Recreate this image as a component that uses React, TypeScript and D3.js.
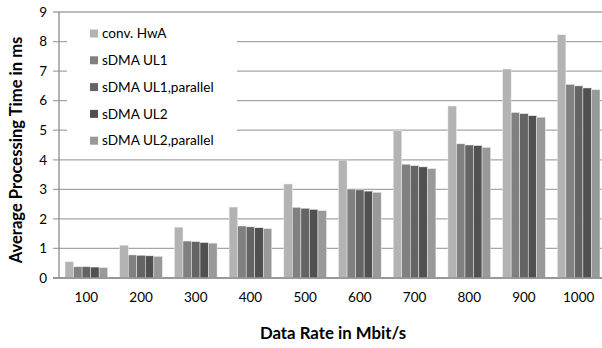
import React, { useEffect, useRef } from 'react';
import * as d3 from 'd3';

const categories = ['100', '200', '300', '400', '500', '600', '700', '800', '900', '1000'];
const seriesNames = ['conv. HwA', 'sDMA UL1', 'sDMA UL1,parallel', 'sDMA UL2', 'sDMA UL2,parallel'];
const convHwA = [0.55, 1.11, 1.72, 2.4, 3.18, 3.99, 4.98, 5.82, 7.07, 8.23];
const sdmaUL1 = [0.38, 0.78, 1.25, 1.76, 2.39, 3.01, 3.85, 4.54, 5.6, 6.55];
const sdmaUL1Par = [0.38, 0.77, 1.23, 1.73, 2.36, 2.98, 3.8, 4.5, 5.56, 6.5];
const sdmaUL2 = [0.37, 0.75, 1.2, 1.7, 2.32, 2.94, 3.76, 4.48, 5.49, 6.43];
const sdmaUL2Par = [0.35, 0.73, 1.18, 1.67, 2.28, 2.9, 3.7, 4.42, 5.44, 6.37];
const yTicks = [0, 1, 2, 3, 4, 5, 6, 7, 8, 9];
const colors = ['#b3b3b3', '#808080', '#646464', '#505050', '#999999'];

const FONT = 'Lato, "Open Sans", sans-serif';

const App: React.FC = () => {
    const svgRef = useRef<SVGSVGElement>(null);

    useEffect(() => {
        const width = 602;
        const height = 348;
        const margin = { top: 12, left: 59, right: -4, bottom: 70 };
        const series = [convHwA, sdmaUL1, sdmaUL1Par, sdmaUL2, sdmaUL2Par];

        const svg = d3.select(svgRef.current);
        svg.selectAll('*').remove();
        svg.attr('width', width).attr('height', height);

        const x = d3.scaleBand<string>()
            .domain(categories)
            .range([margin.left, width - margin.right])
            .paddingInner(0.22)
            .paddingOuter(0.11);

        const x1 = d3.scaleBand<number>()
            .domain(d3.range(seriesNames.length))
            .range([0, x.bandwidth()]);

        const y = d3.scaleLinear().domain([0, 9]).range([height - margin.bottom, margin.top]);

        // gridlines + y ticks
        svg.append('g')
            .selectAll('line')
            .data(yTicks)
            .enter()
            .append('line')
            .attr('x1', margin.left - 6)
            .attr('x2', width - margin.right)
            .attr('y1', d => y(d))
            .attr('y2', d => y(d))
            .attr('stroke', '#a6a6a6')
            .attr('stroke-width', 1.3);

        svg.append('g')
            .selectAll('text')
            .data(yTicks)
            .enter()
            .append('text')
            .attr('x', 47)
            .attr('y', d => y(d))
            .attr('dy', '0.35em')
            .attr('text-anchor', 'end')
            .attr('font-family', FONT)
            .attr('font-size', 13.5)
            .attr('fill', '#000')
            .text(d => d);

        // bars
        const groups = svg.append('g')
            .selectAll('g')
            .data(categories)
            .enter()
            .append('g')
            .attr('transform', d => `translate(${x(d)},0)`);

        groups.selectAll('rect')
            .data((_, i) => series.map((s, k) => ({ k, v: s[i] })))
            .enter()
            .append('rect')
            .attr('x', d => x1(d.k)!)
            .attr('width', x1.bandwidth())
            .attr('y', d => y(d.v))
            .attr('height', d => y(0) - y(d.v))
            .attr('fill', d => colors[d.k])
            .attr('stroke', '#ececec')
            .attr('stroke-width', 0.5);

        // axis lines
        svg.append('line')
            .attr('x1', margin.left).attr('x2', margin.left)
            .attr('y1', y(9)).attr('y2', y(0))
            .attr('stroke', '#8c8c8c').attr('stroke-width', 1.3);
        svg.append('line')
            .attr('x1', margin.left - 6).attr('x2', width - margin.right)
            .attr('y1', y(0)).attr('y2', y(0))
            .attr('stroke', '#8c8c8c').attr('stroke-width', 1.3);

        // x tick labels
        svg.append('g')
            .selectAll('text')
            .data(categories)
            .enter()
            .append('text')
            .attr('x', d => x(d)! + x.bandwidth() / 2)
            .attr('y', 302)
            .attr('text-anchor', 'middle')
            .attr('font-family', FONT)
            .attr('font-size', 13.5)
            .attr('fill', '#000')
            .text(d => d);

        // axis titles
        svg.append('text')
            .attr('x', 333)
            .attr('y', 339)
            .attr('text-anchor', 'middle')
            .attr('font-family', FONT)
            .attr('font-weight', 'bold')
            .attr('font-size', 16.8)
            .text('Data Rate in Mbit/s');

        svg.append('text')
            .attr('transform', `translate(22,${(y(9) + y(0)) / 2 + 5}) rotate(-90)`)
            .attr('text-anchor', 'middle')
            .attr('font-family', FONT)
            .attr('font-weight', 'bold')
            .attr('font-size', 16.6)
            .text('Average Processing Time in ms');

        // legend
        const legend = svg.append('g');
        legend.append('rect')
            .attr('x', 67).attr('y', 20)
            .attr('width', 170).attr('height', 135)
            .attr('fill', '#fff');

        const items = legend.selectAll('g.item')
            .data(seriesNames)
            .enter()
            .append('g')
            .attr('transform', (_, i) => `translate(90,${33.5 + i * 26.8})`);

        items.append('rect')
            .attr('x', 0).attr('y', -4)
            .attr('width', 8).attr('height', 8)
            .attr('fill', (_, i) => colors[i]);

        items.append('text')
            .attr('x', 12)
            .attr('dy', '0.35em')
            .attr('font-family', FONT)
            .attr('font-size', 13.6)
            .attr('fill', '#000')
            .text(d => d);
    }, []);

    return (
        <div style={{ position: 'absolute', left: 0, top: 0 }}>
            <svg ref={svgRef} style={{ display: 'block' }}></svg>
        </div>
    );
};

export default App;
